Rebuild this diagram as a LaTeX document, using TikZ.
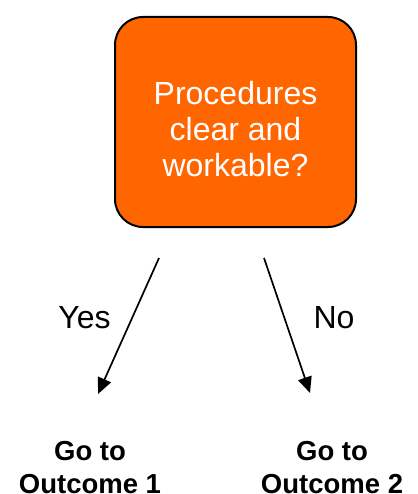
\documentclass[tikz,border=0pt]{standalone}
\usepackage{fontspec}
\setmainfont{Liberation Sans}
\usetikzlibrary{arrows.meta}
\definecolor{decision}{HTML}{FF6600}
\begin{document}
\begin{tikzpicture}[x=1pt,y=-1pt,
  question/.style={draw=black, line width=2pt, fill=decision, rounded corners=28pt,
    minimum width=241pt, minimum height=210pt, inner sep=0pt},
  questiontext/.style={text=white, align=center, inner sep=0pt,
    font=\fontsize{32}{36}\selectfont},
  branch/.style={font=\fontsize{32}{36}\selectfont, anchor=base, inner sep=0pt},
  outcome/.style={font=\bfseries\fontsize{27.5}{33}\selectfont, align=center,
    anchor=base, inner sep=0pt},
  link/.style={line width=1.7pt, -{Triangle[length=16pt,width=14pt]}}]
\useasboundingbox (0,0) rectangle (417,494);

% decision box
\node[question] (box) at (235.5,122) {};
\node[questiontext, yshift=-7pt] (boxtext) at (box.center)
  {Procedures\\clear and\\workable?};

% branch arrows
\coordinate (yesFrom) at (159,258);
\coordinate (yesTo) at (98,394);
\coordinate (noFrom) at (264,258);
\coordinate (noTo) at (310,393);
\draw[link] (yesFrom) -- (yesTo);
\draw[link] (noFrom) -- (noTo);

% branch labels
\node[branch] (yes) at (84.5,328) {Yes};
\node[branch] (no) at (334,328) {No};

% outcomes (base anchor sits on the last line)
\node[outcome] (out1) at (90,493.5) {Go to\\Outcome 1};
\node[outcome] (out2) at (332,493.5) {Go to\\Outcome 2};
\end{tikzpicture}
\end{document}
